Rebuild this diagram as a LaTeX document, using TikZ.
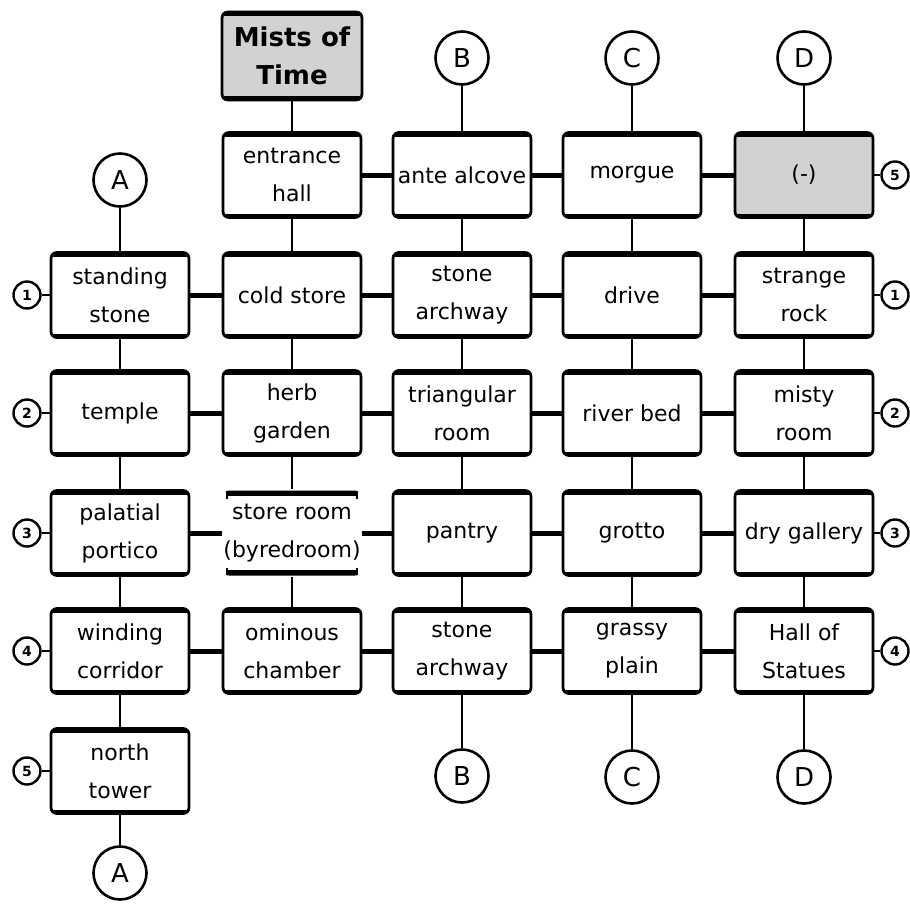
\documentclass[tikz,border=0pt]{standalone}
\usepackage{fontspec}
\setmainfont{DejaVu Sans}
\usetikzlibrary{calc}

\tikzset{
  room/.style={draw, line width=1.4pt, rounded corners=3pt,
    minimum width=69pt, minimum height=42.5pt, inner sep=0pt,
    align=center, font=\fontsize{11}{19}\selectfont,
    path picture={\draw[line width=4pt]
      (path picture bounding box.north west) -- (path picture bounding box.north east)
      (path picture bounding box.south west) -- (path picture bounding box.south east);}},
  openroom/.style={room, draw=none,
    path picture={\draw[line width=5.4pt]
      ($(path picture bounding box.north west)+(3,0)$) -- ($(path picture bounding box.north east)-(3,0)$)
      ($(path picture bounding box.south west)+(3,0)$) -- ($(path picture bounding box.south east)-(3,0)$);
      \draw[line width=1.4pt]
      ($(path picture bounding box.north west)+(4,0)$) -- +(0,8)
      ($(path picture bounding box.north east)-(4,0)$) -- +(0,8)
      ($(path picture bounding box.south west)+(4,0)$) -- +(0,-8)
      ($(path picture bounding box.south east)-(4,0)$) -- +(0,-8);}},
  shaded/.style={room, fill=gray!35},
  exit/.style={draw, circle, line width=1.3pt, minimum size=26.5pt, inner sep=0pt,
    font=\fontsize{13}{13}\selectfont},
  side/.style={draw, circle, line width=1.2pt, minimum size=13.5pt, inner sep=0pt,
    font=\fontsize{7}{7}\selectfont\bfseries},
  hlink/.style={line width=2.5pt},
  vlink/.style={line width=1.2pt}
}

\begin{document}
\begin{tikzpicture}[x=0.5pt, y=-0.5pt]
  \useasboundingbox (0,0) rectangle (910,905);
  % title
  \node[shaded, minimum width=70pt, minimum height=44pt, font=\fontsize{13}{19}\selectfont\bfseries]
    (mists) at (292,56) {Mists of\\Time};
  % row 0
  \node[room] (hall) at (292,175) {entrance\\hall};
  \node[room] (alcove) at (462,175) {ante alcove};
  \node[room] (morgue) at (632,175) {morgue};
  \node[shaded] (blank) at (804,175) {(-)};
  % row 1
  \node[room] (standing) at (120,295) {standing\\stone};
  \node[room] (cold) at (292,295) {cold store};
  \node[room] (archN) at (462,295) {stone\\archway};
  \node[room] (drive) at (632,295) {drive};
  \node[room] (rock) at (804,295) {strange\\rock};
  % row 2
  \node[room] (temple) at (120,413) {temple};
  \node[room] (herb) at (292,413) {herb\\garden};
  \node[room] (triangle) at (462,413) {triangular\\room};
  \node[room] (riverbed) at (632,413) {river bed};
  \node[room] (misty) at (804,413) {misty\\room};
  % row 3
  \node[room] (portico) at (120,533) {palatial\\portico};
  \node[openroom] (store) at (292,533) {store room\\(byredroom)};
  \node[room] (pantry) at (462,533) {pantry};
  \node[room] (grotto) at (632,533) {grotto};
  \node[room] (gallery) at (804,533) {dry gallery};
  % row 4
  \node[room] (winding) at (120,651) {winding\\corridor};
  \node[room] (ominous) at (292,651) {ominous\\chamber};
  \node[room] (archS) at (462,651) {stone\\archway};
  \node[room] (plain) at (632,651) {grassy\\plain};
  \node[room] (statues) at (804,651) {Hall of\\Statues};
  % row 5
  \node[room] (tower) at (120,771) {north\\tower};
  % exits
  \node[exit] (At) at (120,180) {A};
  \node[exit] (Ab) at (120,873) {A};
  \node[exit] (Bt) at (462,58) {B};
  \node[exit] (Bb) at (462,776) {B};
  \node[exit] (Ct) at (632,58) {C};
  \node[exit] (Cb) at (632,777) {C};
  \node[exit] (Dt) at (804,58) {D};
  \node[exit] (Db) at (804,777) {D};
  % side markers
  \node[side] (l1) at (27,295) {1};
  \node[side] (l2) at (27,413) {2};
  \node[side] (l3) at (27,533) {3};
  \node[side] (l4) at (27,651) {4};
  \node[side] (l5) at (27,771) {5};
  \node[side] (r5) at (895,175) {5};
  \node[side] (r1) at (895,295) {1};
  \node[side] (r2) at (895,413) {2};
  \node[side] (r3) at (895,533) {3};
  \node[side] (r4) at (895,651) {4};
  % east-west links
  \foreach \a/\b in {hall/alcove, alcove/morgue, morgue/blank,
      standing/cold, cold/archN, archN/drive, drive/rock,
      temple/herb, herb/triangle, triangle/riverbed, riverbed/misty,
      portico/store, store/pantry, pantry/grotto, grotto/gallery,
      winding/ominous, ominous/archS, archS/plain, plain/statues}
    \draw[hlink] (\a) -- (\b);
  % north-south links
  \foreach \a/\b in {At/standing, standing/temple, temple/portico, portico/winding, winding/tower, tower/Ab,
      mists/hall, hall/cold, cold/herb, herb/store, store/ominous,
      Bt/alcove, alcove/archN, archN/triangle, triangle/pantry, pantry/archS, archS/Bb,
      Ct/morgue, morgue/drive, drive/riverbed, riverbed/grotto, grotto/plain, plain/Cb,
      Dt/blank, blank/rock, rock/misty, misty/gallery, gallery/statues, statues/Db}
    \draw[vlink] (\a) -- (\b);
  % markers to rooms
  \foreach \a/\b in {l1/standing, l2/temple, l3/portico, l4/winding, l5/tower,
      r5/blank, r1/rock, r2/misty, r3/gallery, r4/statues}
    \draw[vlink] (\a) -- (\b);
\end{tikzpicture}
\end{document}
